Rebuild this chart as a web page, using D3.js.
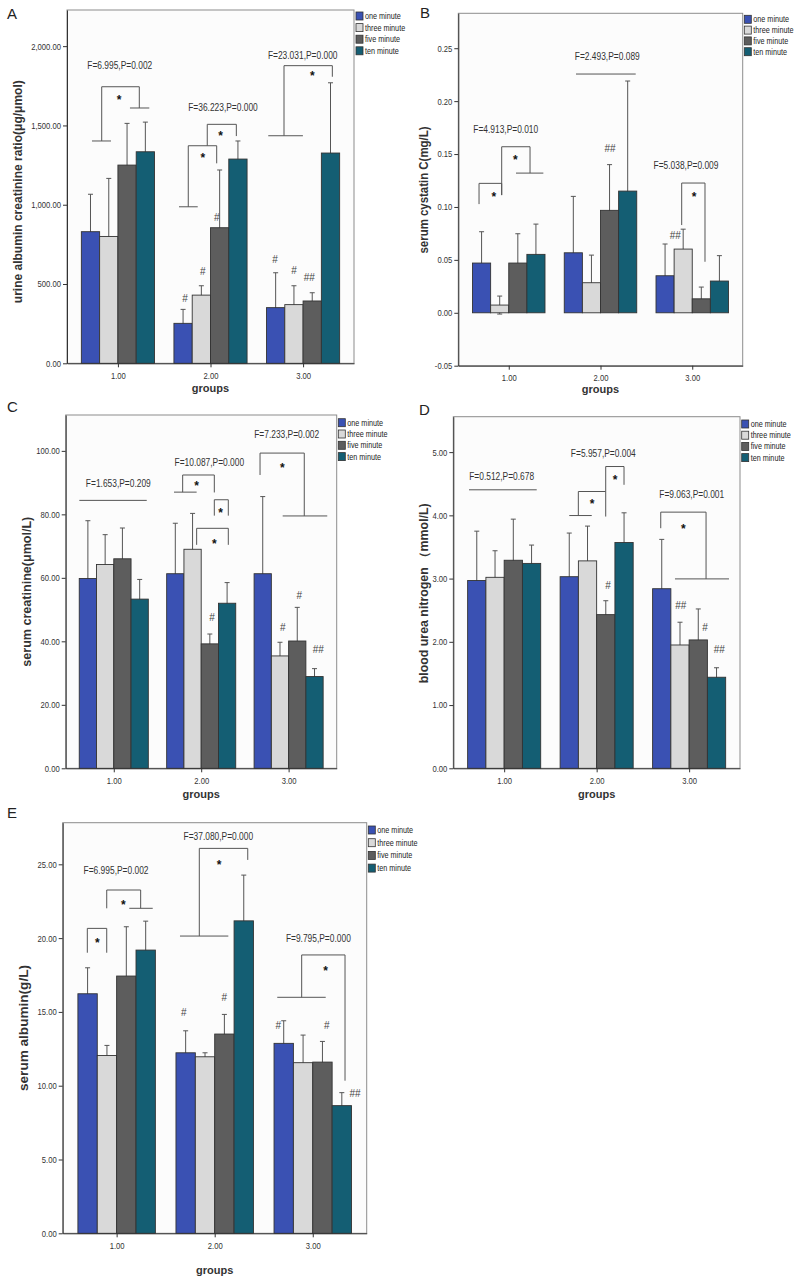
<!DOCTYPE html>
<html><head><meta charset="utf-8">
<script src="https://cdn.jsdelivr.net/npm/d3@7"></script>
<style>body{margin:0;background:#fff}svg{display:block}</style>
</head><body>
<svg id="c" width="800" height="1281"></svg>
<script>
// ---------- shared categories ----------
const groups = [1, 2, 3];
const groupLabels = ["1.00", "2.00", "3.00"];
const series = ["one minute", "three minute", "five minute", "ten minute"];

// ---------- Panel A: urine albumin creatinine ratio ----------
const aMeans = [[830, 800, 1250, 1334], [252, 430, 855, 1288], [351, 370, 393, 1326]];
const aSD    = [[236, 366, 263, 187], [88, 59, 364, 114], [220, 119, 52, 443]];
const aTicks = [0, 500, 1000, 1500, 2000];
const aTickLabels = ["0.00", "500.00", "1,000.00", "1,500.00", "2,000.00"];
const aDomain = [0, 2228];
const aStats = [[1.02, 1877, "F=6.995,P=0.002"], [2.135, 1616, "F=36.223,P=0.000"], [2.996, 1938, "F=23.031,P=0.000"]];
const aBrackets = [
  [[0.825, 1402], [0.825, 1744], [1.231, 1744], [1.231, 1610]],
  [[0.72, 1402], [0.925, 1402]],
  [[1.13, 1610], [1.339, 1610]],
  [[1.760, 987], [1.760, 1372], [2.067, 1372], [2.067, 1261]],
  [[1.660, 987], [1.862, 987]],
  [[1.965, 1372], [1.965, 1507], [2.279, 1507], [2.279, 1433]],
  [[2.794, 1435], [2.794, 1877], [3.316, 1877], [3.316, 1807]],
  [[2.624, 1435], [2.998, 1435]]
];
const aStars = [[1.012, 1679], [1.916, 1314], [2.11, 1452], [3.10, 1829]];
const aMarks = [[1.725, 411, "#"], [1.916, 582, "#"], [2.067, 921, "#"], [2.697, 656, "#"], [2.902, 584, "#"], [3.067, 540, "##"]];

// ---------- Panel B: serum cystatin C ----------
const bMeans = [[0.047, 0.0073, 0.047, 0.0552], [0.0567, 0.0284, 0.0968, 0.115], [0.035, 0.0602, 0.0132, 0.030]];
const bSD    = [[0.0296, 0.0085, 0.0277, 0.0286], [0.0533, 0.0261, 0.0432, 0.104], [0.030, 0.0188, 0.0111, 0.024]];
const bTicks = [-0.05, 0, 0.05, 0.10, 0.15, 0.20, 0.25];
const bTickLabels = ["-0.05", "0.00", "0.05", "0.10", "0.15", "0.20", "0.25"];
const bDomain = [-0.05, 0.283];
const bStats = [[0.967, 0.1733, "F=4.913,P=0.010"], [2.074, 0.2419, "F=2.493,P=0.089"], [2.932, 0.1396, "F=5.038,P=0.009"]];
const bBrackets = [
  [[0.676, 0.1027], [0.676, 0.1223], [0.923, 0.1223], [0.923, 0.1112]],
  [[0.923, 0.1112], [0.923, 0.1569], [1.232, 0.1569], [1.232, 0.132]],
  [[1.079, 0.132], [1.377, 0.132]],
  [[1.733, 0.2256], [2.384, 0.2256]],
  [[2.885, 0.0829], [2.885, 0.1226], [3.139, 0.1226], [3.139, 0.0482]]
];
const bStars = [[0.836, 0.1122], [1.071, 0.1469], [3.019, 0.1122]];
const bMarks = [[2.104, 0.1554, "##"], [2.815, 0.0731, "##"]];

// ---------- Panel C: serum creatinine ----------
const cMeans = [[59.8, 64.2, 66.0, 53.3], [61.3, 69.0, 39.2, 52.0], [61.3, 35.4, 40.1, 28.9]];
const cSD    = [[18.2, 9.4, 9.7, 6.2], [15.9, 11.3, 3.1, 6.5], [24.3, 4.3, 10.6, 2.5]];
const cTicks = [0, 20, 40, 60, 80, 100];
const cTickLabels = ["0.00", "20.00", "40.00", "60.00", "80.00", "100.00"];
const cDomain = [0, 111.3];
const cStats = [[1.052, 89.6, "F=1.653,P=0.209"], [2.093, 96.3, "F=10.087,P=0.000"], [2.978, 105.1, "F=7.233,P=0.002"]];
const cBrackets = [
  [[0.606, 84.4], [1.377, 84.4]],
  [[1.788, 87.0], [1.788, 92.4], [2.150, 92.4], [2.150, 86.9]],
  [[1.689, 87.0], [1.948, 87.0]],
  [[2.150, 79.6], [2.150, 84.6], [2.310, 84.6], [2.310, 79.6]],
  [[1.948, 70.4], [1.948, 75.6], [2.310, 75.6], [2.310, 70.4]],
  [[2.673, 92.4], [2.673, 99.3], [3.179, 99.3], [3.179, 79.5]],
  [[2.932, 79.5], [3.442, 79.5]]
];
const cStars = [[1.948, 89.8], [2.223, 81.2], [2.150, 71.4], [2.928, 95.6]];
const cMarks = [[2.124, 47.6, "#"], [2.932, 44.3, "#"], [3.122, 54.4, "#"], [3.339, 37.5, "##"]];

// ---------- Panel D: blood urea nitrogen ----------
const dMeans = [[2.97, 3.02, 3.29, 3.24], [3.03, 3.28, 2.43, 3.57], [2.84, 1.95, 2.03, 1.44]];
const dSD    = [[0.78, 0.42, 0.65, 0.29], [0.69, 0.55, 0.22, 0.47], [0.78, 0.36, 0.49, 0.15]];
const dTicks = [0, 1, 2, 3, 4, 5];
const dTickLabels = ["0.00", "1.00", "2.00", "3.00", "4.00", "5.00"];
const dDomain = [0, 5.56];
const dStats = [[0.973, 4.614, "F=0.512,P=0.678"], [2.072, 4.984, "F=5.957,P=0.004"], [3.028, 4.324, "F=9.063,P=0.001"]];
const dBrackets = [
  [[0.620, 4.404], [1.352, 4.404]],
  [[1.802, 3.997], [1.802, 4.377], [2.098, 4.377], [2.098, 3.981]],
  [[1.704, 3.997], [1.947, 3.997]],
  [[2.098, 4.377], [2.098, 4.772], [2.296, 4.772], [2.296, 4.483]],
  [[2.693, 3.797], [2.693, 4.051], [3.183, 4.051], [3.183, 2.995]],
  [[2.847, 2.995], [3.431, 2.995]]
];
const dStars = [[1.950, 4.229], [2.198, 4.604], [2.937, 3.834]];
const dMarks = [[2.123, 2.889, "#"], [2.909, 2.568, "##"], [3.172, 2.225, "#"], [3.326, 1.883, "##"]];

// ---------- Panel E: serum albumin ----------
const eMeans = [[16.23, 12.05, 17.43, 19.19], [12.23, 11.96, 13.5, 21.17], [12.87, 11.56, 11.6, 8.65]];
const eSD    = [[1.76, 0.68, 3.34, 1.96], [1.49, 0.27, 1.33, 3.10], [1.53, 1.87, 1.4, 0.88]];
const eTicks = [0, 5, 10, 15, 20, 25];
const eTickLabels = ["0.00", "5.00", "10.00", "15.00", "20.00", "25.00"];
const eDomain = [0, 27.82];
const eStats = [[0.994, 24.57, "F=6.995,P=0.002"], [2.037, 26.87, "F=37.080,P=0.000"], [3.057, 19.99, "F=9.795,P=0.000"]];
const eBrackets = [
  [[0.701, 19.01], [0.701, 20.66], [0.899, 20.66], [0.899, 19.01]],
  [[0.899, 22.02], [0.899, 23.26], [1.245, 23.26], [1.245, 22.02]],
  [[1.129, 22.02], [1.368, 22.02]],
  [[1.843, 20.14], [1.843, 26.08], [2.337, 26.08], [2.337, 25.3]],
  [[1.646, 20.14], [2.139, 20.14]],
  [[2.887, 15.99], [2.887, 18.86], [3.329, 18.86], [3.329, 10.34]],
  [[2.638, 15.99], [3.132, 15.99]]
];
const eStars = [[0.803, 19.87], [1.068, 22.47], [2.044, 25.18], [3.132, 17.95]];
const eMarks = [[1.684, 14.95, "#"], [2.098, 15.96, "#"], [2.649, 14.11, "#"], [3.142, 14.11, "#"], [3.431, 9.49, "##"]];

// ---------- layout (positions / styles only) ----------
const colors = ["#3a51b3", "#d9d9d9", "#5d5d5d", "#145e73"];
const panels = [
  {letter: "A", ylabel: "urine albumin creatinine ratio(μg/μmol)", means: aMeans, sd: aSD, ticks: aTicks, tl: aTickLabels, dom: aDomain,
   stats: aStats, br: aBrackets, stars: aStars, marks: aMarks,
   frame: [67, 10, 354, 363.3], let: [7, 18.5], ylab: [18, 191.7, 223], gOff: 24.7, leg: [356, 16, 11.6]},
  {letter: "B", ylabel: "serum cystatin C(mg/L)", means: bMeans, sd: bSD, ticks: bTicks, tl: bTickLabels, dom: bDomain,
   stats: bStats, br: bBrackets, stars: bStars, marks: bMarks,
   frame: [458.3, 13.3, 742.7, 365.7], let: [420, 17.5], ylab: [424, 190, 127], gOff: 23.3, leg: [744.3, 19.3, 10.8]},
  {letter: "C", ylabel: "serum creatinine(μmol/L)", means: cMeans, sd: cSD, ticks: cTicks, tl: cTickLabels, dom: cDomain,
   stats: cStats, br: cBrackets, stars: cStars, marks: cMarks,
   frame: [65.7, 415, 336.7, 768.3], let: [7, 412], ylab: [27, 591.7, 150], gOff: 25.7, leg: [338.3, 422.7, 11.3]},
  {letter: "D", ylabel: "blood urea nitrogen （mmol/L)", means: dMeans, sd: dSD, ticks: dTicks, tl: dTickLabels, dom: dDomain,
   stats: dStats, br: dBrackets, stars: dStars, marks: dMarks,
   frame: [453.3, 416.7, 740, 768.3], let: [419, 415], ylab: [424, 593.3, 180], gOff: 26, leg: [741.7, 424, 11.2]},
  {letter: "E", ylabel: "serum albumin(g/L)", means: eMeans, sd: eSD, ticks: eTicks, tl: eTickLabels, dom: eDomain,
   stats: eStats, br: eBrackets, stars: eStars, marks: eMarks,
   frame: [62.7, 822.7, 366.7, 1233.3], let: [7, 818], ylab: [24, 1028, 126], gOff: 36.7, leg: [368.3, 830, 12.7]}
];

const FONT = "'Liberation Sans', Arial, sans-serif";
const svg = d3.select("#c");
const inner = d3.scaleBand().domain(series).range([-0.395, 0.395]);

function condense(sel, f) {
  sel.each(function () {
    const w = this.getComputedTextLength();
    if (w > 0) {
      this.setAttribute("textLength", (w * f).toFixed(2));
      this.setAttribute("lengthAdjust", "spacingAndGlyphs");
    }
  });
}

function drawPanel(p) {
  const [L, T, R, B] = p.frame;
  const x = d3.scaleLinear().domain([0.45, 3.55]).range([L, R]);
  const y = d3.scaleLinear().domain(p.dom).range([B, T]);
  const g = svg.append("g");

  g.append("rect").attr("x", L).attr("y", T).attr("width", R - L).attr("height", B - T)
    .attr("fill", "#fcfcfc").attr("stroke", "#8c8c8c").attr("stroke-width", 1);

  const flat = [];
  p.means.forEach((row, gi) => row.forEach((m, si) =>
    flat.push({g: groups[gi], s: series[si], si, m, sd: p.sd[gi][si]})));
  const cx = d => x(d.g + inner(d.s) + inner.bandwidth() / 2);
  const bw = x(inner.bandwidth()) - x(0);

  // error bars (behind bars)
  const eb = g.append("g").attr("stroke", "#555").attr("stroke-width", 1).attr("fill", "none");
  eb.selectAll("line.v").data(flat).join("line").attr("class", "v")
    .attr("x1", cx).attr("x2", cx).attr("y1", d => y(d.m - d.sd)).attr("y2", d => y(d.m + d.sd));
  eb.selectAll("line.t").data(flat).join("line").attr("class", "t")
    .attr("x1", d => cx(d) - 2.5).attr("x2", d => cx(d) + 2.5)
    .attr("y1", d => y(d.m + d.sd)).attr("y2", d => y(d.m + d.sd));
  eb.selectAll("line.b").data(flat).join("line").attr("class", "b")
    .attr("x1", d => cx(d) - 2.5).attr("x2", d => cx(d) + 2.5)
    .attr("y1", d => y(d.m - d.sd)).attr("y2", d => y(d.m - d.sd));

  // bars
  g.append("g").selectAll("rect").data(flat).join("rect")
    .attr("x", d => x(d.g + inner(d.s)))
    .attr("width", bw)
    .attr("y", d => y(Math.max(0, d.m)))
    .attr("height", d => Math.abs(y(d.m) - y(0)))
    .attr("fill", d => colors[d.si])
    .attr("stroke", "#333").attr("stroke-width", 0.9);

  // annotation brackets
  const line = d3.line().x(d => x(d[0])).y(d => y(d[1]));
  g.append("g").selectAll("path").data(p.br).join("path")
    .attr("d", line).attr("fill", "none").attr("stroke", "#555").attr("stroke-width", 1);

  // stats labels
  g.append("g").selectAll("text").data(p.stats).join("text")
    .attr("x", d => x(d[0])).attr("y", d => y(d[1])).attr("dy", "0.35em")
    .attr("text-anchor", "middle").attr("font-family", FONT).attr("font-size", 10)
    .attr("fill", "#333").text(d => d[2]).call(condense, 0.84);

  g.append("g").selectAll("text").data(p.stars).join("text")
    .attr("x", d => x(d[0])).attr("y", d => y(d[1])).attr("dy", "0.57em")
    .attr("text-anchor", "middle").attr("font-family", FONT).attr("font-size", 12)
    .attr("font-weight", "bold").attr("fill", "#111").text("*");

  g.append("g").selectAll("text").data(p.marks).join("text")
    .attr("x", d => x(d[0])).attr("y", d => y(d[1])).attr("dy", "0.35em")
    .attr("text-anchor", "middle").attr("font-family", FONT).attr("font-size", 10)
    .attr("fill", "#444").text(d => d[2]);

  // axes
  const ya = g.append("g").attr("transform", `translate(${L},0)`)
    .call(d3.axisLeft(y).tickValues(p.ticks).tickFormat((d, i) => p.tl[i]).tickSize(4).tickSizeOuter(0).tickPadding(2));
  const xa = g.append("g").attr("transform", `translate(0,${B})`)
    .call(d3.axisBottom(x).tickValues(groups).tickFormat((d, i) => groupLabels[i]).tickSize(4).tickSizeOuter(0).tickPadding(5));
  [ya, xa].forEach(a => {
    a.select(".domain").attr("stroke", "#333");
    a.selectAll(".tick line").attr("stroke", "#333");
    a.selectAll("text").attr("font-family", FONT).attr("font-size", 9).attr("fill", "#333").call(condense, 0.85);
  });

  // axis titles
  g.append("text").attr("x", (L + R) / 2).attr("y", B + p.gOff).attr("dy", "0.35em")
    .attr("text-anchor", "middle").attr("font-family", FONT).attr("font-weight", "bold")
    .attr("font-size", 11).attr("fill", "#333").text("groups");
  g.append("text").attr("transform", `translate(${p.ylab[0]},${p.ylab[1]}) rotate(-90)`)
    .attr("dy", "0.35em").attr("text-anchor", "middle").attr("font-family", FONT)
    .attr("font-weight", "bold").attr("font-size", 12).attr("fill", "#333")
    .attr("textLength", p.ylab[2]).attr("lengthAdjust", "spacingAndGlyphs").text(p.ylabel);

  // legend
  const lg = g.append("g");
  series.forEach((s, i) => {
    const yy = p.leg[1] + i * p.leg[2];
    lg.append("rect").attr("x", p.leg[0]).attr("y", yy - 4).attr("width", 7).attr("height", 8)
      .attr("fill", colors[i]).attr("stroke", "#333").attr("stroke-width", 0.8);
    lg.append("text").attr("x", p.leg[0] + 9).attr("y", yy).attr("dy", "0.35em")
      .attr("font-family", FONT).attr("font-size", 8.5).attr("fill", "#222").text(s).call(condense, 0.85);
  });

  // panel letter
  svg.append("text").attr("x", p.let[0]).attr("y", p.let[1]).attr("font-family", FONT)
    .attr("font-size", 15).attr("fill", "#222").text(p.letter);
}

panels.forEach(drawPanel);
</script>
</body></html>
